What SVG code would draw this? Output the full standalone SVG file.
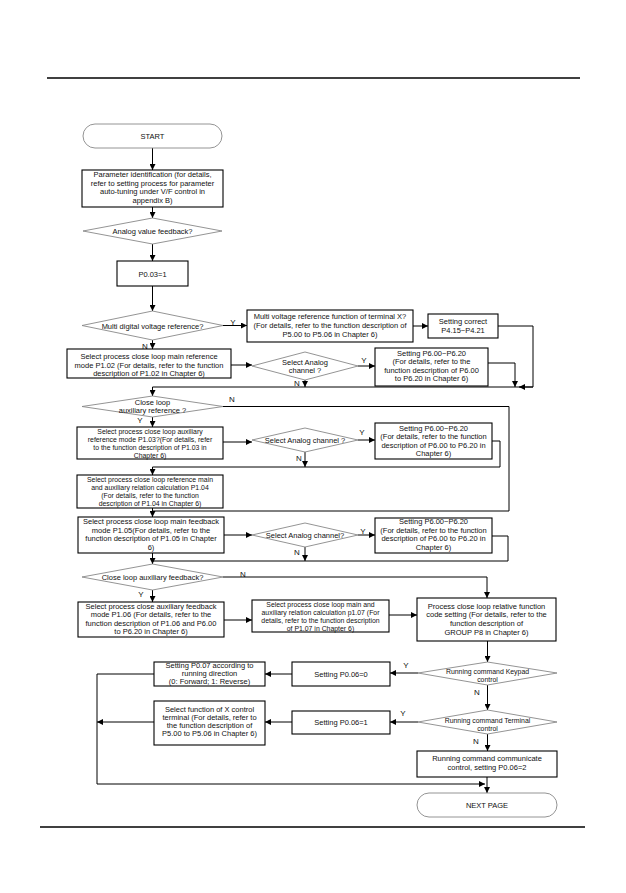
<svg xmlns="http://www.w3.org/2000/svg" width="626" height="893" viewBox="0 0 626 893">
<defs>
<marker id="ah" viewBox="0 0 10 10" refX="10" refY="5" markerWidth="6" markerHeight="6" markerUnits="userSpaceOnUse" orient="auto">
<path d="M0,0 L10,5 L0,10 z" fill="#000"/>
</marker>
</defs>
<style>
text{font-family:"Liberation Sans",Arial,sans-serif;font-size:7.5px;fill:#111;text-anchor:middle}
.sm{font-size:6.9px}
.box{fill:#fff;stroke:#000;stroke-width:1.1}
.term{fill:#fff;stroke:#888;stroke-width:0.9}
.dia{fill:#fff;stroke:#888;stroke-width:0.9}
.ln{fill:none;stroke:#000;stroke-width:1}
.ar{fill:none;stroke:#000;stroke-width:1;marker-end:url(#ah)}
.lbl{font-size:8px}
.rule{stroke:#000;stroke-width:1.3}
</style>
<rect width="626" height="893" fill="#fff"/>
<line class="rule" x1="47" y1="78" x2="580" y2="78"/>
<line class="rule" x1="40" y1="827" x2="585" y2="827"/>

<g id="connectors">
<path class="ar" d="M152.5,148 V170"/>
<path class="ar" d="M152.5,207 V218"/>
<path class="ar" d="M152.5,244 V261"/>
<path class="ar" d="M152.5,286 V311"/>
<path class="ar" d="M223,325.5 H247"/>
<path class="ar" d="M413,326 H428"/>
<path class="ar" d="M152.5,340 V349"/>
<path class="ar" d="M231,365 H252"/>
<path class="ar" d="M358,366 H375"/>
<path class="ar" d="M498,326 H533 V387 H519"/>
<path class="ar" d="M488,363 H515 V387"/>
<path class="ar" d="M305,380 V387"/>
<path class="ar" d="M533,387 H152.5 V396"/>
<path class="ln" d="M223,406.5 H509 V511 H152.5"/>
<path class="ar" d="M152.5,417 V427"/>
<path class="ar" d="M223,442 H252"/>
<path class="ar" d="M358,440 H375"/>
<path class="ln" d="M492,441 H500 V467 H152.5"/>
<path class="ar" d="M152.5,467 V475"/>
<path class="ar" d="M305,452 V467"/>
<path class="ar" d="M152.5,508 V517"/>
<path class="ar" d="M224,535 H252"/>
<path class="ar" d="M358,535 H375"/>
<path class="ln" d="M492,536 H508 V561 H152.5"/>
<path class="ar" d="M305,547 V561"/>
<path class="ar" d="M152.5,553 V564"/>
<path class="ar" d="M223,577 H487 V598"/>
<path class="ar" d="M152.5,590 V602"/>
<path class="ar" d="M224,620 H252"/>
<path class="ar" d="M389,615 H417"/>
<path class="ar" d="M487.5,641 V662"/>
<path class="ar" d="M418,673 H390"/>
<path class="ar" d="M292,674 H265"/>
<path class="ar" d="M487.5,685 V710"/>
<path class="ar" d="M418,722 H390"/>
<path class="ar" d="M292,722 H265"/>
<path class="ar" d="M154,722 H97"/>
<path class="ar" d="M487.5,734 V751"/>
<path class="ar" d="M154,674 H97 V784 H485"/>
<path class="ar" d="M487,777 V793"/>
</g>

<g id="labels">
<text class="lbl" x="233" y="325">Y</text>
<text class="lbl" x="145" y="349">N</text>
<text class="lbl" x="364" y="363">Y</text>
<text class="lbl" x="297" y="386">N</text>
<text class="lbl" x="232" y="402">N</text>
<text class="lbl" x="140" y="423">Y</text>
<text class="lbl" x="362" y="435">Y</text>
<text class="lbl" x="299" y="461">N</text>
<text class="lbl" x="363" y="534">Y</text>
<text class="lbl" x="297" y="555">N</text>
<text class="lbl" x="243" y="577">N</text>
<text class="lbl" x="141" y="597">Y</text>
<text class="lbl" x="406" y="668">Y</text>
<text class="lbl" x="477" y="695">N</text>
<text class="lbl" x="403" y="716">Y</text>
<text class="lbl" x="476" y="744">N</text>
</g>

<g id="start">
<rect class="term" x="83" y="124" width="139" height="24" rx="12"/>
<text x="152.5" y="139">START</text>
</g>
<g id="param-id">
<rect class="box" x="82" y="170" width="141" height="37"/>
<text x="152.5" y="177">Parameter identification (for details,</text>
<text x="152.5" y="185.5">refer to setting process for parameter</text>
<text x="152.5" y="194">auto-tuning under V/F control in</text>
<text x="152.5" y="202.5">appendix B)</text>
</g>
<g id="analog-feedback">
<polygon class="dia" points="83,231 152.5,218 222,231 152.5,244"/>
<text x="152.5" y="234">Analog value feedback?</text>
</g>
<g id="p003">
<rect class="box" x="117" y="261" width="71" height="25"/>
<text x="152.5" y="276.5">P0.03=1</text>
</g>
<g id="multi-digital">
<polygon class="dia" points="82,325.5 152.5,311 223,325.5 152.5,340"/>
<text x="152.5" y="328.5">Multi digital voltage reference?</text>
</g>
<g id="multi-voltage-func">
<rect class="box" x="247" y="310" width="166" height="32"/>
<text x="330" y="318.5">Multi voltage reference function  of terminal X?</text>
<text x="330" y="327.5">(For details, refer to the function description of</text>
<text x="330" y="336.5">P5.00 to P5.06 in Chapter 6)</text>
</g>
<g id="setting-correct">
<rect class="box" x="428" y="314" width="70" height="24"/>
<text x="463" y="324">Setting correct</text>
<text x="463" y="332.5">P4.15~P4.21</text>
</g>
<g id="p102">
<rect class="box" x="67" y="349" width="164" height="29"/>
<text x="149" y="359">Select process close loop main reference</text>
<text x="149" y="367.5">mode P1.02 (For details, refer to the function</text>
<text x="149" y="376">description of P1.02 in Chapter 6)</text>
</g>
<g id="analog-ch-1">
<polygon class="dia" points="252,366 305,352 358,366 305,380"/>
<text x="305" y="364.5">Select Analog</text>
<text x="305" y="373">channel ?</text>
</g>
<g id="p6-set-1">
<rect class="box" x="375" y="348" width="113" height="38"/>
<text x="431.5" y="355.5">Setting P6.00~P6.20</text>
<text x="431.5" y="364">(For details, refer to the</text>
<text x="431.5" y="372.5">function description of P6.00</text>
<text x="431.5" y="381">to P6.20 in Chapter 6)</text>
</g>
<g id="aux-ref">
<polygon class="dia" points="82,406.5 152.5,396 223,406.5 152.5,417"/>
<text x="152.5" y="404.5">Close loop</text>
<text x="152.5" y="412.5">auxiliary reference ?</text>
</g>
<g id="p103">
<rect class="box" x="77" y="427" width="146" height="32"/>
<text class="sm" x="150" y="433.5">Select process close loop auxiliary</text>
<text class="sm" x="150" y="441.5">reference mode P1.03?(For details, refer</text>
<text class="sm" x="150" y="449.5">to the function description of P1.03 in</text>
<text class="sm" x="150" y="457.5">Chapter 6)</text>
</g>
<g id="analog-ch-2">
<polygon class="dia" points="252,440 305,428 358,440 305,452"/>
<text x="305" y="443">Select Analog channel ?</text>
</g>
<g id="p6-set-2">
<rect class="box" x="375" y="423" width="117" height="36"/>
<text x="433.5" y="430.5">Setting P6.00~P6.20</text>
<text x="433.5" y="439">(For details, refer to the function</text>
<text x="433.5" y="447.5">description of P6.00 to P6.20 in</text>
<text x="433.5" y="456">Chapter 6)</text>
</g>
<g id="p104">
<rect class="box" x="77" y="475" width="146" height="33"/>
<text class="sm" x="150" y="482">Select process close loop reference main</text>
<text class="sm" x="150" y="490">and auxiliary relation calculation P1.04</text>
<text class="sm" x="150" y="498">(For details, refer to the function</text>
<text class="sm" x="150" y="506">description of P1.04 in Chapter 6)</text>
</g>
<g id="p105">
<rect class="box" x="78" y="517" width="146" height="36"/>
<text x="151" y="524">Select process close loop main feedback</text>
<text x="151" y="532.5">mode P1.05(For details, refer to the</text>
<text x="151" y="541">function description of P1.05 in Chapter</text>
<text x="151" y="549.5">6)</text>
</g>
<g id="analog-ch-3">
<polygon class="dia" points="252,535 305,523 358,535 305,547"/>
<text x="305" y="538">Select Analog channel?</text>
</g>
<g id="p6-set-3">
<rect class="box" x="375" y="518" width="117" height="35"/>
<text x="433.5" y="524">Setting P6.00~P6.20</text>
<text x="433.5" y="532.5">(For details, refer to the function</text>
<text x="433.5" y="541">description of P6.00 to P6.20 in</text>
<text x="433.5" y="549.5">Chapter 6)</text>
</g>
<g id="aux-feedback">
<polygon class="dia" points="82,577 152.5,564 223,577 152.5,590"/>
<text x="152.5" y="580">Close loop auxiliary feedback?</text>
</g>
<g id="p106">
<rect class="box" x="78" y="602" width="146" height="35"/>
<text x="151" y="608.5">Select process close auxiliary feedback</text>
<text x="151" y="617">mode P1.06 (For details, refer to the</text>
<text x="151" y="625.5">function description of P1.06 and P6.00</text>
<text x="151" y="634">to P6.20 in Chapter 6)</text>
</g>
<g id="p107">
<rect class="box" x="252" y="600" width="137" height="32"/>
<text class="sm" x="320.5" y="606.5">Select process close loop main and</text>
<text class="sm" x="320.5" y="614.5">auxiliary relation calculation p1.07 (For</text>
<text class="sm" x="320.5" y="622.5">details, refer to the function description</text>
<text class="sm" x="320.5" y="630.5">of P1.07 in Chapter 6)</text>
</g>
<g id="group-p8">
<rect class="box" x="417" y="598" width="139" height="43"/>
<text x="486.5" y="608.5">Process close loop relative function</text>
<text x="486.5" y="617">code setting (For details, refer to the</text>
<text x="486.5" y="625.5">function description of</text>
<text x="486.5" y="634.5">GROUP P8 in Chapter 6)</text>
</g>
<g id="keypad">
<polygon class="dia" points="418,673 487.5,662 557,673 487.5,685"/>
<text class="sm" x="487.5" y="674">Running command Keypad</text>
<text class="sm" x="487.5" y="682">control</text>
</g>
<g id="p006-0">
<rect class="box" x="292" y="662" width="98" height="24"/>
<text x="341" y="676.5">Setting P0.06=0</text>
</g>
<g id="p007">
<rect class="box" x="154" y="662" width="111" height="24"/>
<text x="209.5" y="667.5">Setting P0.07 according to</text>
<text x="209.5" y="676">running  direction</text>
<text x="209.5" y="684">(0: Forward; 1: Reverse)</text>
</g>
<g id="terminal">
<polygon class="dia" points="418,722 487.5,710 557,722 487.5,734"/>
<text class="sm" x="487.5" y="723">Running command Terminal</text>
<text class="sm" x="487.5" y="731">control</text>
</g>
<g id="p006-1">
<rect class="box" x="292" y="711" width="98" height="23"/>
<text x="341" y="725">Setting P0.06=1</text>
</g>
<g id="x-terminal">
<rect class="box" x="154" y="701" width="111" height="44"/>
<text x="209.5" y="712">Select function of X control</text>
<text x="209.5" y="720">terminal (For details, refer to</text>
<text x="209.5" y="728">the function description of</text>
<text x="209.5" y="736">P5.00 to P5.06 in Chapter 6)</text>
</g>
<g id="communicate">
<rect class="box" x="417" y="751" width="140" height="26"/>
<text x="487" y="761">Running command communicate</text>
<text x="487" y="770">control, setting P0.06=2</text>
</g>
<g id="next-page">
<rect class="term" x="417" y="793" width="140" height="24" rx="12"/>
<text x="487" y="808">NEXT PAGE</text>
</g>
</svg>
